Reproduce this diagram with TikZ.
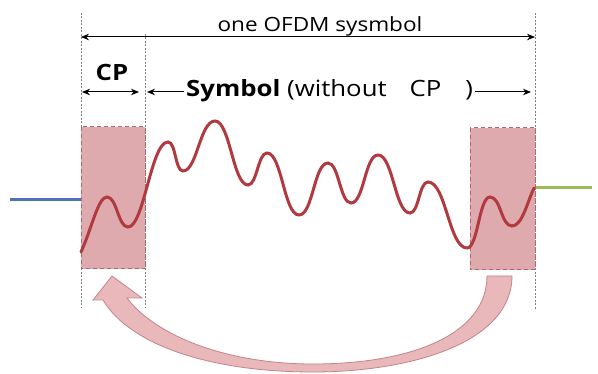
\documentclass[tikz,border=0pt]{standalone}
\usepackage{fontspec}
\setmainfont{Open Sans}[FakeStretch=1.15]
\usetikzlibrary{arrows.meta}
\definecolor{wavered}{HTML}{B03A40}
\definecolor{cpfill}{HTML}{DFAAAE}
\definecolor{cpedge}{HTML}{B5666C}
\definecolor{copyfill}{HTML}{E8B8BB}
\definecolor{copyedge}{HTML}{C48489}
\definecolor{inblue}{HTML}{4F72B4}
\definecolor{outgreen}{HTML}{9BBB59}
\tikzset{
  guide/.style={gray, line width=0.6pt, dash pattern=on 2pt off 1.5pt},
  span/.style={line width=1pt},
  cpbox/.style={fill=cpfill, draw=cpedge, line width=1pt, dash pattern=on 4pt off 3pt},
  biglabel/.style={font=\fontsize{22.4}{26}\selectfont, inner sep=2pt},
}

\begin{document}
\begin{tikzpicture}[x=1pt, y=-1pt, font=\fontsize{19.6}{24}\selectfont,
        >={Stealth[length=8pt,width=6.5pt]}]
        \useasboundingbox (0,0) rectangle (598,374);

        % guide lines
        \draw[guide] (81,13) -- (81,308);
        \draw[guide] (145,34) -- (145,308);
        \draw[guide] (535,13) -- (535,310);

        % CP boxes
        \draw[cpbox] (81,127) rectangle (145,269);
        \draw[cpbox] (470,128) rectangle (535,270);

        % in / out lines
        \draw[inblue, line width=3pt] (10,200) -- (81,200);
        \draw[outgreen, line width=3pt] (536,188) -- (592,188);

        % waveform
        \draw[wavered, line width=3pt, line cap=round]
            (81,252) .. controls (92,228) and (98,197) .. (107,197)
            .. controls (117,197) and (118,227) .. (128,227)
            .. controls (144,227) and (151,142) .. (168,142)
            .. controls (176,142) and (175,171) .. (183,171)
            .. controls (197,171) and (200,121) .. (215,121)
            .. controls (230,121) and (233,185) .. (248,185)
            .. controls (257,185) and (258,153) .. (267,153)
            .. controls (282,153) and (284,215) .. (299,215)
            .. controls (313,215) and (314,163) .. (328,163)
            .. controls (339,163) and (340,203) .. (351,203)
            .. controls (364,203) and (365,155) .. (378,155)
            .. controls (393,155) and (395,213) .. (410,213)
            .. controls (419,213) and (419,182) .. (428,182)
            .. controls (446,182) and (449,248) .. (467,248)
            .. controls (478,248) and (479,197) .. (490,197)
            .. controls (501,197) and (501,226) .. (512,226)
            .. controls (522,226) and (527,203) .. (534,188);

        % labels
        \node[anchor=base, inner sep=2pt] (ofdm) at (320,32) {one OFDM sysmbol};
        \node[biglabel, anchor=base, font=\fontsize{22.4}{26}\selectfont\bfseries] (cp) at (112,81) {CP};
        \node[biglabel, anchor=base west] (sym) at (184,97)
            {\textbf{Symbol} (without\hspace{23pt}CP\hspace{24pt})};

        \coordinate (ofdmL) at (81,37);
        \coordinate (ofdmR) at (535,37);
        \coordinate (cpL) at (82,92);
        \coordinate (cpR) at (139,92);
        \coordinate (symL) at (147,92);
        \coordinate (symR) at (531,92);

        \draw[span, <->] (ofdmL) -- (ofdmR);
        \draw[span, <->] (cpL) -- (cpR);
        \draw[span, <-] (symL) -- (sym.west |- symL);
        \draw[span, ->] (sym.east |- symR) -- (symR);

        % copy arrow
        \filldraw[fill=copyfill, draw=copyedge, line width=0.8pt]
            (512,276) .. controls (512,343) and (410,372) .. (313,372)
            .. controls (210,372) and (130,345) .. (103,300)
            -- (93,300) -- (112,276) -- (142,298) -- (127,298)
            .. controls (155,335) and (225,364) .. (313,364)
            .. controls (410,364) and (487,335) .. (487,276) -- cycle;
\end{tikzpicture}
\end{document}
